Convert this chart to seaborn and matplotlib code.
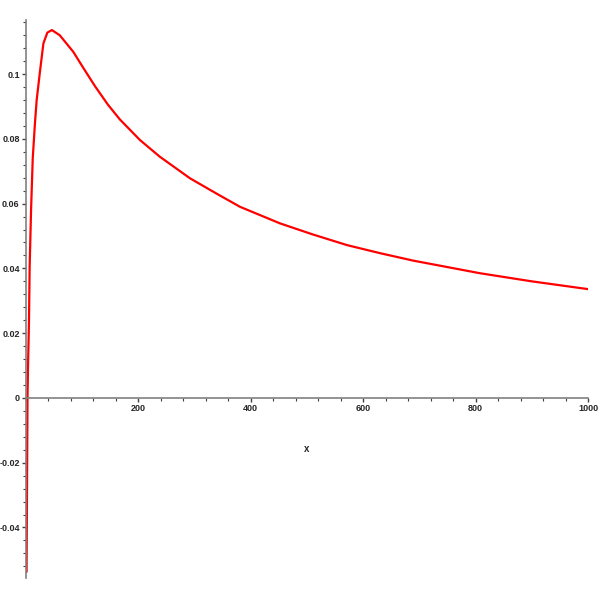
import numpy as np
import pandas as pd
import matplotlib
matplotlib.use("Agg")
import matplotlib.pyplot as plt
import seaborn as sns
from matplotlib.ticker import MultipleLocator, FixedLocator

# valeurs
x_vals = [1, 2, 2.7, 3.6, 5.3, 6.5, 9, 12, 16, 19, 25, 31, 38, 46, 60, 84,
          102, 123, 146, 167, 203, 238, 292, 340, 381, 452, 510, 571, 630,
          689, 750, 808, 900, 1000]
y_vals = [-0.0537, -0.022, 0.0, 0.0097, 0.0235, 0.0405, 0.058, 0.074, 0.085,
          0.092, 0.101, 0.1095, 0.1128, 0.1136, 0.112, 0.1069, 0.1019, 0.0962,
          0.0905, 0.0860, 0.0796, 0.0745, 0.0678, 0.0630, 0.059, 0.0539,
          0.0505, 0.0472, 0.0447, 0.0424, 0.0404, 0.0385, 0.036, 0.0336]
x_ticks = [200, 400, 600, 800, 1000]
y_ticks = [-0.04, -0.02, 0, 0.02, 0.04, 0.06, 0.08, 0.1]
y_labels = ["-0.04", "-0.02", "0", "0.02", "0.04", "0.06", "0.08", "0.1"]

df = pd.DataFrame({"x": x_vals, "y": y_vals})

sns.set_style("white")
plt.rcParams["font.family"] = ["Liberation Sans", "DejaVu Sans"]
fig = plt.figure(figsize=(6, 6), dpi=100)
ax = fig.add_axes([26 / 600, 22 / 600, 562 / 600, 558 / 600])

sns.lineplot(data=df, x="x", y="y", color="red", linewidth=1.6, ax=ax)

ax.set_xlim(0, 1000)
ax.set_ylim(-0.0556, 0.1167)

# axes qui se croisent a l'origine, style Maple
for s in ["top", "right"]:
    ax.spines[s].set_visible(False)
ax.spines["left"].set_position(("data", 0))
ax.spines["bottom"].set_position(("data", 0))
for s in ["left", "bottom"]:
    ax.spines[s].set_color("#808080")
    ax.spines[s].set_linewidth(1.2)

ax.xaxis.set_major_locator(FixedLocator(x_ticks))
ax.xaxis.set_minor_locator(MultipleLocator(40))
ax.yaxis.set_major_locator(FixedLocator(y_ticks))
ax.yaxis.set_minor_locator(MultipleLocator(0.004))
ax.set_xticklabels([str(t) for t in x_ticks])
ax.set_yticklabels(y_labels)

ax.tick_params(axis="both", which="both", bottom=True, left=True)
ax.tick_params(axis="both", which="major", direction="out", length=3, width=1,
               color="#404040", labelsize=6.5, pad=1.5)
ax.tick_params(axis="both", which="minor", direction="out", length=2, width=0.8,
               color="#404040")
for lab in ax.get_xticklabels() + ax.get_yticklabels():
    lab.set_fontweight("bold")

ax.set_xlabel("")
ax.set_ylabel("")
fig.text(307 / 600, 1 - 449 / 600, "x", fontsize=7, fontweight="bold",
         ha="center", va="center")

fig.savefig("out.png", dpi=100)
